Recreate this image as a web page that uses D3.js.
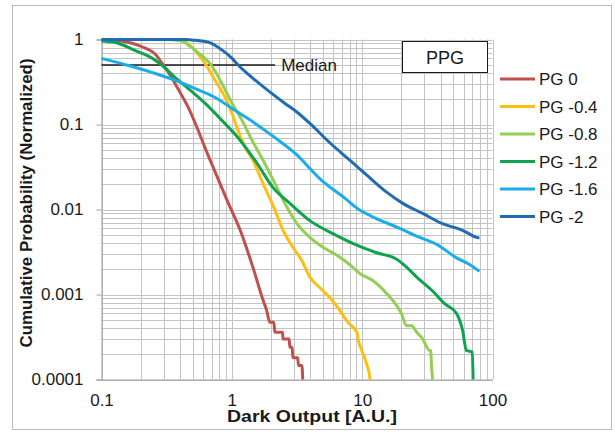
<!DOCTYPE html>
<html>
<head>
<meta charset="utf-8">
<script src="https://cdn.jsdelivr.net/npm/d3@7"></script>
<style>
  body { margin: 0; background: #fff; }
  svg { display: block; font-family: "Liberation Sans", Arial, sans-serif; }
</style>
</head>
<body>
<svg id="chart"></svg>
<script>
var width = 615;
var height = 432;

// series names
var seriesNames = ["PG 0", "PG -0.4", "PG -0.8", "PG -1.2", "PG -1.6", "PG -2"];
var seriesColors = ["#bf504d", "#fdbf12", "#93cf52", "#0fa34f", "#1badea", "#1f6cb3"];

// [dark output, cumulative probability]
var pg0 = [[0.1,0.99],[0.13,0.975],[0.16,0.93],[0.19,0.86],[0.217,0.79],[0.259,0.67],[0.293,0.52],[0.33,0.40],[0.368,0.30],[0.42,0.21],[0.464,0.158],[0.552,0.085],[0.659,0.043],[0.75,0.027],[0.92,0.0128],[1.16,0.0057],[1.45,0.0021],[1.74,0.00085],[1.85,0.00065],[1.96,0.00047],[2.1,0.00047],[2.14,0.00036],[2.45,0.00036],[2.47,0.0003],[2.75,0.0003],[2.79,0.00024],[2.9,0.00024],[2.94,0.00018],[3.2,0.00018],[3.25,0.000146],[3.45,0.000146],[3.5,0.0001]];
var pg04 = [[0.1,1],[0.3,1],[0.37,0.99],[0.417,0.96],[0.47,0.87],[0.524,0.74],[0.625,0.52],[0.745,0.33],[0.889,0.208],[1.005,0.135],[1.117,0.085],[1.264,0.054],[1.455,0.0377],[1.736,0.0202],[2.1,0.0106],[2.47,0.0057],[2.94,0.0036],[3.45,0.0025],[3.97,0.0016],[4.74,0.0012],[5.65,0.00092],[6.74,0.00065],[7.76,0.00047],[9.1,0.00036],[9.4,0.00028],[9.93,0.00022],[10.8,0.000154],[11.3,0.00012],[11.5,0.0001]];
var pg08 = [[0.1,1],[0.3,1],[0.36,0.995],[0.388,0.975],[0.43,0.93],[0.464,0.86],[0.55,0.7],[0.682,0.52],[0.843,0.30],[1.005,0.177],[1.2,0.111],[1.43,0.065],[1.74,0.0377],[2.22,0.0181],[2.65,0.0106],[3.16,0.0068],[3.97,0.0047],[5.0,0.0036],[6.39,0.0029],[8.47,0.0021],[9.57,0.00177],[12.05,0.00146],[15.4,0.00103],[18.4,0.00074],[20,0.0006],[21.9,0.00043],[24,0.00043],[26.2,0.00036],[29.1,0.0003],[32.9,0.00022],[33.5,0.00022],[34.1,0.00014],[34.7,0.0001]];
var pg12 = [[0.1,0.96],[0.128,0.92],[0.182,0.74],[0.246,0.6],[0.293,0.494],[0.368,0.357],[0.464,0.265],[0.625,0.177],[0.843,0.111],[1.117,0.07],[1.56,0.035],[2.07,0.0181],[2.79,0.0118],[3.97,0.0074],[5.96,0.0052],[9.1,0.0038],[12.9,0.0031],[18.4,0.0026],[21.9,0.0021],[26.2,0.0016],[34.7,0.0011],[42.9,0.00078],[52.9,0.0006],[58.9,0.00038],[63.1,0.00022],[70,0.00021],[71,0.0001]];
var pg16 = [[0.1,0.6],[0.161,0.494],[0.259,0.398],[0.368,0.33],[0.524,0.265],[0.745,0.208],[1.06,0.146],[1.51,0.103],[2.145,0.07],[3.05,0.046],[4.91,0.0219],[7.4,0.0135],[9.25,0.0102],[12.05,0.0082],[19.4,0.006],[27.6,0.0047],[37.2,0.0039],[52.9,0.0027],[66.6,0.00225],[79.4,0.00187]];
var pg20 = [[0.1,1],[0.44,1],[0.524,0.98],[0.659,0.93],[0.843,0.75],[1.005,0.6],[1.117,0.5],[1.43,0.357],[1.9,0.25],[2.56,0.177],[3.05,0.146],[3.97,0.103],[5.65,0.061],[8.04,0.038],[10.8,0.0255],[15.4,0.016],[20.5,0.0118],[29.1,0.009],[41.4,0.0068],[58.9,0.0057],[75.3,0.0047],[79.4,0.0046]];
var seriesValues = [pg0, pg04, pg08, pg12, pg16, pg20];

var xTickValues = [0.1, 1, 10, 100];
var xTickLabels = ["0.1", "1", "10", "100"];
var yTickValues = [1, 0.1, 0.01, 0.001, 0.0001];
var yTickLabels = ["1", "0.1", "0.01", "0.001", "0.0001"];

var medianValue = 0.5;
var medianEnd = 2.15;

var svg = d3.select("#chart").attr("width", width).attr("height", height);

// outer frame
svg.append("rect")
    .attr("x", 12.5).attr("y", 5.5)
    .attr("width", 599).attr("height", 424)
    .attr("fill", "#fff")
    .attr("stroke", "#bcbcbc");

var x = d3.scaleLog().domain([0.1, 100]).range([101.5, 492.5]);
var y = d3.scaleLog().domain([0.0001, 1]).range([379.5, 39.5]);

// grid lines (every 1..9 of each decade)
svg.append("g")
    .selectAll("line")
    .data(x.ticks())
    .enter()
    .append("line")
    .attr("x1", function(d){ return Math.round(x(d)) + 0.5; })
    .attr("x2", function(d){ return Math.round(x(d)) + 0.5; })
    .attr("y1", y(1)).attr("y2", y(0.0001))
    .attr("stroke", "#c4c4c4");

svg.append("g")
    .selectAll("line")
    .data(y.ticks())
    .enter()
    .append("line")
    .attr("y1", function(d){ return Math.round(y(d)) + 0.5; })
    .attr("y2", function(d){ return Math.round(y(d)) + 0.5; })
    .attr("x1", x(0.1)).attr("x2", x(100))
    .attr("stroke", "#c4c4c4");

// axes
var yAxis = d3.axisLeft(y).tickValues(yTickValues)
    .tickFormat(function(d, i){ return yTickLabels[i]; })
    .tickSize(5).tickPadding(13);
var gy = svg.append("g").attr("transform", "translate(" + x(0.1) + ",0)").call(yAxis);

var xAxis = d3.axisBottom(x).tickValues(xTickValues)
    .tickFormat(function(d, i){ return xTickLabels[i]; })
    .tickSize(0).tickPadding(14);
var gx = svg.append("g").attr("transform", "translate(0," + y(0.0001) + ")").call(xAxis);

[gx, gy].forEach(function(g){
    g.select(".domain").attr("stroke", "#9c9c9c");
    g.selectAll(".tick line").attr("stroke", "#9c9c9c");
    g.selectAll("text")
        .attr("fill", "#1a1a1a")
        .style("font-size", "17px")
        .style("font-family", "'Liberation Sans', Arial, sans-serif");
});

// median line
svg.append("line")
    .attr("x1", x(0.1)).attr("x2", x(medianEnd))
    .attr("y1", y(medianValue)).attr("y2", y(medianValue))
    .attr("stroke", "#1a1a1a").attr("stroke-width", 1.5);
svg.append("text")
    .attr("x", x(medianEnd) + 6).attr("y", y(medianValue) + 6)
    .style("font-size", "17px").attr("fill", "#1a1a1a")
    .text("Median");

// curves, smoothed like the original
var line = d3.line()
    .curve(d3.curveMonotoneX)
    .x(function(d){ return x(d[0]); })
    .y(function(d){ return y(d[1]); });

svg.append("g")
    .selectAll("path")
    .data(seriesValues)
    .enter()
    .append("path")
    .attr("d", line)
    .attr("fill", "none")
    .attr("stroke", function(d, i){ return seriesColors[i]; })
    .attr("stroke-width", 3)
    .attr("stroke-linejoin", "round");

// PPG box
svg.append("rect")
    .attr("x", 402.5).attr("y", 41.5)
    .attr("width", 85).attr("height", 31)
    .attr("fill", "#fff").attr("stroke", "#1a1a1a");
svg.append("text")
    .attr("x", 445).attr("y", 64)
    .attr("text-anchor", "middle")
    .style("font-size", "18px").attr("fill", "#1a1a1a")
    .text("PPG");

// legend
var legend = svg.append("g")
    .selectAll("g")
    .data(seriesNames)
    .enter()
    .append("g")
    .attr("transform", function(d, i){ return "translate(500," + (79 + i * 27.5) + ")"; });
legend.append("line")
    .attr("x1", 0).attr("x2", 35)
    .attr("stroke", function(d, i){ return seriesColors[i]; })
    .attr("stroke-width", 3);
legend.append("text")
    .attr("x", 39).attr("y", 6)
    .style("font-size", "17px").attr("fill", "#1a1a1a")
    .text(function(d){ return d; });

// axis titles
svg.append("text")
    .attr("x", 312).attr("y", 422)
    .attr("text-anchor", "middle")
    .attr("textLength", 170).attr("lengthAdjust", "spacingAndGlyphs")
    .style("font-size", "16px").style("font-weight", "bold").attr("fill", "#1a1a1a")
    .text("Dark Output [A.U.]");

svg.append("text")
    .attr("transform", "translate(32,203) rotate(-90)")
    .attr("text-anchor", "middle")
    .attr("textLength", 289).attr("lengthAdjust", "spacingAndGlyphs")
    .style("font-size", "16px").style("font-weight", "bold").attr("fill", "#1a1a1a")
    .text("Cumulative Probability (Normalized)");
</script>
</body>
</html>
